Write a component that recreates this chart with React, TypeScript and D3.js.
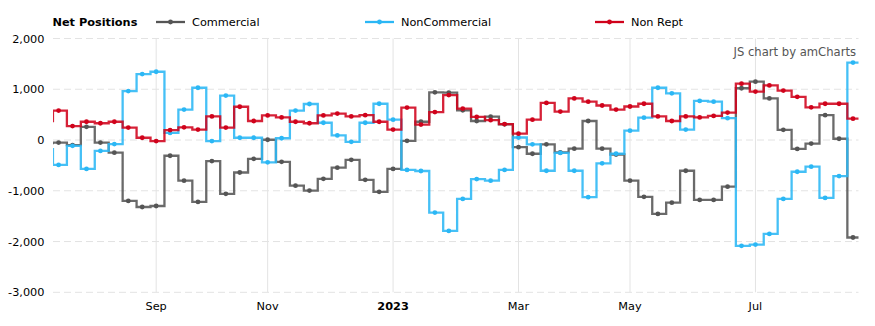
import React from 'react';
import * as d3 from 'd3';

// weekly report dates (first one sits just left of the visible window)
const dates = [
  '2022-07-12', '2022-07-19', '2022-07-26', '2022-08-02', '2022-08-09', '2022-08-16', '2022-08-23', '2022-08-30',
  '2022-09-06', '2022-09-13', '2022-09-20', '2022-09-27', '2022-10-04', '2022-10-11', '2022-10-18', '2022-10-25',
  '2022-11-01', '2022-11-08', '2022-11-15', '2022-11-22', '2022-11-29', '2022-12-06', '2022-12-13', '2022-12-20',
  '2022-12-27', '2023-01-03', '2023-01-10', '2023-01-17', '2023-01-24', '2023-01-31', '2023-02-07', '2023-02-14',
  '2023-02-21', '2023-02-28', '2023-03-07', '2023-03-14', '2023-03-21', '2023-03-28', '2023-04-04', '2023-04-11',
  '2023-04-18', '2023-04-25', '2023-05-02', '2023-05-09', '2023-05-16', '2023-05-23', '2023-05-30', '2023-06-06',
  '2023-06-13', '2023-06-20', '2023-06-27', '2023-07-04', '2023-07-11', '2023-07-18', '2023-07-25', '2023-08-01',
  '2023-08-08', '2023-08-15', '2023-08-22',
];

const commercial = [
  -60, -50, -100, 260, -50, -250, -1200, -1320, -1300, -310, -800, -1220, -415, -1060, -640, -370,
  5, -430, -900, -995, -765, -545, -390, -785, -1020, -570, -15, 360, 940, 935, 585, 375,
  460, 310, -140, -270, -85, -245, -170, 375, -170, -285, -800, -1120, -1455, -1235, -605, -1180,
  -1180, -920, 1020, 1150, 820, 200, -175, -70, 490, 25, -1920,
];

const nonCommercial = [
  -180, -490, -115, -570, -215, -80, 965, 1300, 1345, 140, 600, 1030, -20, 875, 45, 45,
  -440, 35, 580, 710, 340, 90, -35, 340, 715, 400, -590, -610, -1430, -1790, -1160, -770,
  -800, -590, 50, -85, -605, -255, -605, -1125, -460, -270, 185, 440, 1030, 920, 205, 770,
  755, 430, -2085, -2060, -1850, -1160, -625, -525, -1140, -710, 1525,
];

const nonRept = [
  375, 580, 275, 360, 330, 360, 245, 45, -20, 195, 250, 205, 465, 245, 655, 375,
  485, 445, 360, 330, 485, 520, 465, 490, 360, 205, 640, 305, 550, 885, 620, 455,
  390, 315, 125, 400, 730, 560, 820, 755, 680, 600, 660, 715, 465, 375, 465, 445,
  475, 540, 1110, 955, 1075, 975, 850, 645, 715, 715, 420,
];

const yTicks = [2000, 1000, 0, -1000, -2000, -3000];
const seriesNames = ['Commercial', 'NonCommercial', 'Non Rept'];
const seriesColors = ['#555555', '#2bb7f5', '#d0021b'];
const legendX = [156, 365, 595];

const W = 875;
const H = 326;
const PLOT = { left: 53, right: 858.5, top: 38.5, bottom: 292.3 };
const WEEK = 7 * 864e5;
const POINT_POS = 0.405;
const FONT = '"DejaVu Sans", Verdana, sans-serif';
const FS = 11.3;

export default function App() {
  const parsed = dates.map((d) => new Date(d + 'T00:00:00Z'));
  const n = parsed.length;
  const x = d3
    .scaleUtc()
    .domain([parsed[1], parsed[n - 1]])
    .range([58.6, 853]);
  const y = d3.scaleLinear().domain([-3000, 2000]).range([PLOT.bottom, PLOT.top]);

  const ticks = parsed.filter((d) => d.getUTCDate() <= 7 && d.getUTCMonth() % 2 === 0);
  const fmt = (d: Date) => (d.getUTCMonth() === 0 ? d3.utcFormat('%Y')(d) : d3.utcFormat('%b')(d));

  const series = [commercial, nonCommercial, nonRept];

  const stepPath = (vals: number[]) => {
    const pts: [number, number][] = vals.map((v, i) => [x(new Date(+parsed[i] - POINT_POS * WEEK)), y(v)]);
    pts.push([x(new Date(+parsed[n - 1] + (1 - POINT_POS) * WEEK)), y(vals[n - 1])]);
    return d3.line().curve(d3.curveStepAfter)(pts) || '';
  };

  const yFmt = d3.format(',');

  return (
    <svg
      width={W}
      height={H}
      style={{ position: 'absolute', left: 0, top: 0, background: '#fff' }}
      fontFamily={FONT}
      fontSize={FS}
    >
      <defs>
        <clipPath id="plotClip">
          <rect x={PLOT.left} y={0} width={PLOT.right - PLOT.left} height={H} />
        </clipPath>
      </defs>

      {/* horizontal grid */}
      {yTicks.map((t) => (
        <line
          key={'h' + t}
          x1={PLOT.left}
          x2={PLOT.right}
          y1={y(t)}
          y2={y(t)}
          stroke="#e3e3e3"
          strokeDasharray="7,4"
        />
      ))}
      {/* vertical grid */}
      {ticks.map((d) => (
        <line
          key={'v' + +d}
          x1={x(d)}
          x2={x(d)}
          y1={PLOT.top}
          y2={PLOT.bottom}
          stroke="#e3e3e3"
        />
      ))}

      {/* y labels */}
      {yTicks.map((t) => (
        <text key={'yl' + t} x={44.5} y={y(t) + 4} textAnchor="end" fill="#000">
          {yFmt(t).replace('−', '-')}
        </text>
      ))}

      {/* x labels */}
      {ticks.map((d) => (
        <text
          key={'xl' + +d}
          x={x(d)}
          y={310}
          textAnchor="middle"
          fill="#000"
          fontWeight={d.getUTCMonth() === 0 ? 'bold' : 'normal'}
        >
          {fmt(d)}
        </text>
      ))}

      {/* series */}
      <g clipPath="url(#plotClip)">
        {series.map((vals, s) => (
          <g key={'s' + s}>
            <path
              d={stepPath(vals)}
              fill="none"
              stroke={seriesColors[s]}
              strokeWidth={2.3}
              strokeOpacity={0.88}
              strokeLinejoin="miter"
            />
            {vals.map((v, i) => (
              <circle key={i} cx={x(parsed[i])} cy={y(v)} r={2.4} fill={seriesColors[s]} />
            ))}
          </g>
        ))}
      </g>

      {/* watermark */}
      <text x={856} y={56} textAnchor="end" fill="#555" fontSize={11.6}>
        JS chart by amCharts
      </text>

      {/* title + legend */}
      <text x={52.5} y={26} fontWeight="bold" fill="#000">
        Net Positions
      </text>
      {seriesNames.map((name, s) => (
        <g key={'lg' + s} transform={`translate(${legendX[s]},22)`}>
          <line x1={0} x2={29} y1={0} y2={0} stroke={seriesColors[s]} strokeWidth={2.3} />
          <circle cx={14.5} cy={0} r={2.4} fill={seriesColors[s]} />
          <text x={36} y={4} fill="#000">
            {name}
          </text>
        </g>
      ))}
    </svg>
  );
}
